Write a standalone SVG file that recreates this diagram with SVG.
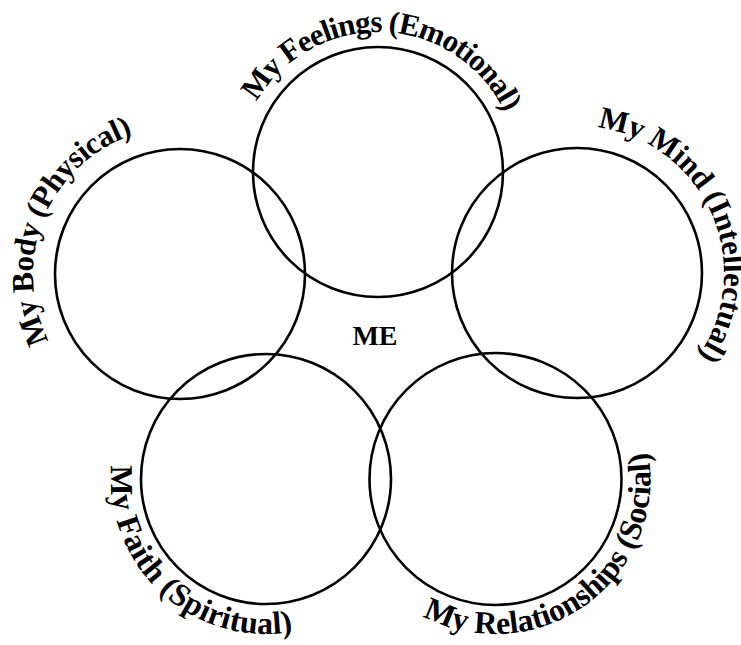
<svg xmlns="http://www.w3.org/2000/svg" width="741" height="645" viewBox="0 0 741 645">
  <style>
    .ring { fill: none; stroke: #000; stroke-width: 2.6; }
    .lbl { font-family: "Liberation Serif", "DejaVu Serif", serif; font-weight: bold; fill: #000; }
    .me { font-family: "Liberation Serif", "DejaVu Serif", serif; font-weight: bold; font-size: 28px; fill: #000; }
  </style>
  <defs>
    <path id="arcTop" d="M256.76,102 A140,140 0 0 1 504.88,112.83"/>
    <path id="arcLeft" d="M49.02,340.74 A147,147 0 0 1 134.58,134.19"/>
    <path id="arcRight" d="M597.46,127.43 A147,147 0 0 1 697.42,357.32"/>
    <path id="arcBL" d="M111.59,465.49 A155,155 0 0 0 292.92,631.65"/>
    <path id="arcBR" d="M422.73,615.86 A155,155 0 0 0 648.15,452.08"/>
  </defs>
  <rect width="741" height="645" fill="#fff"/>
  <g id="emotional">
    <circle class="ring" cx="378" cy="172" r="125"/>
    <text class="lbl" font-size="31"><textPath href="#arcTop" textLength="305" lengthAdjust="spacing">My Feelings (Emotional)</textPath></text>
  </g>
  <g id="physical">
    <circle class="ring" cx="180" cy="274" r="125"/>
    <text class="lbl" font-size="31"><textPath href="#arcLeft" textLength="252" lengthAdjust="spacing">My Body (Physical)</textPath></text>
  </g>
  <g id="intellectual">
    <circle class="ring" cx="577" cy="273" r="125"/>
    <text class="lbl" font-size="31"><textPath href="#arcRight" textLength="298" lengthAdjust="spacing">My Mind (Intellectual)</textPath></text>
  </g>
  <g id="spiritual">
    <circle class="ring" cx="266" cy="479" r="125"/>
    <text class="lbl" font-size="32"><textPath href="#arcBL" textLength="284" lengthAdjust="spacing">My Faith (Spiritual)</textPath></text>
  </g>
  <g id="social">
    <circle class="ring" cx="495.5" cy="479" r="126"/>
    <text class="lbl" font-size="32"><textPath href="#arcBR" textLength="346" lengthAdjust="spacing">My Relationships (Social)</textPath></text>
  </g>
  <g id="me">
    <text class="me" x="375" y="345" text-anchor="middle">ME</text>
  </g>
</svg>
